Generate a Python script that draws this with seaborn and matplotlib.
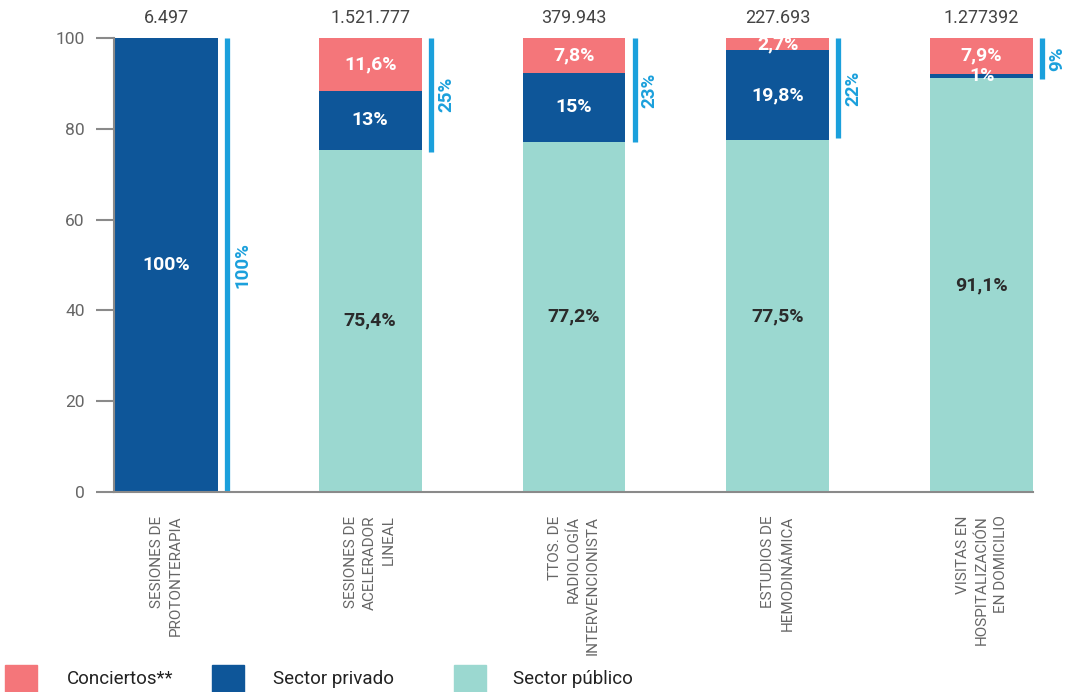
import pandas as pd
import numpy as np
import matplotlib.pyplot as plt
import seaborn as sns
from matplotlib.patches import Rectangle

# datos
categorias = ['SESIONES DE\nPROTONTERAPIA', 'SESIONES DE\nACELERADOR\nLINEAL',
              'TTOS. DE\nRADIOLOGÍA\nINTERVENCIONISTA', 'ESTUDIOS DE\nHEMODINÁMICA',
              'VISITAS EN\nHOSPITALIZACIÓN\nEN DOMICILIO']
totales = ['6.497', '1.521.777', '379.943', '227.693', '1.277392']
publico = [0, 75.4, 77.2, 77.5, 91.1]
privado = [100, 13, 15, 19.8, 1]
conciertos = [0, 11.6, 7.8, 2.7, 7.9]
pct_no_publico = [100, 25, 23, 22, 9]

etq_publico = ['', '75,4%', '77,2%', '77,5%', '91,1%']
etq_privado = ['100%', '13%', '15%', '19,8%', '1%']
etq_conciertos = ['', '11,6%', '7,8%', '2,7%', '7,9%']

c_conc = '#F4767A'
c_priv = '#0E5699'
c_pub = '#9BD8D0'
c_line = '#1BA0DC'

sns.set_style('white')
plt.rcParams['font.family'] = ['Roboto', 'DejaVu Sans']

df = pd.DataFrame({'cat': categorias, 'publico': publico, 'privado': privado,
                   'conciertos': conciertos})
df['top_priv'] = df['publico'] + df['privado']
df['top_conc'] = df['top_priv'] + df['conciertos']

fig = plt.figure(figsize=(10.67, 6.92), dpi=100)
ax = fig.add_axes([114 / 1067, 200 / 692, (1033 - 114) / 1067, 454 / 692])

w = 0.505
sns.barplot(data=df, x='cat', y='top_conc', color=c_conc, width=w, saturation=1,
            linewidth=0, ax=ax)
sns.barplot(data=df, x='cat', y='top_priv', color=c_priv, width=w, saturation=1,
            linewidth=0, ax=ax)
sns.barplot(data=df, x='cat', y='publico', color=c_pub, width=w, saturation=1,
            linewidth=0, ax=ax)

ax.set_xlim(-0.257, 4.252)
ax.set_ylim(0, 100)
ax.set_yticks([0, 20, 40, 60, 80, 100])
ax.set_xlabel('')
ax.set_ylabel('')

for s in ['top', 'right']:
    ax.spines[s].set_visible(False)
for s in ['left', 'bottom']:
    ax.spines[s].set_color('#8a8a8a')
    ax.spines[s].set_linewidth(1.5)

ax.tick_params(axis='y', length=13, width=1.5, color='#8a8a8a', labelcolor='#666666',
               labelsize=12.5, pad=8, left=True)
ax.tick_params(axis='x', length=0, labelcolor='#666666', labelsize=11, pad=17)
for lbl in ax.get_xticklabels():
    lbl.set_rotation(90)
    lbl.set_va('top')
    lbl.set_ha('center')
    lbl.set_multialignment('right')
    lbl.set_linespacing(1.45)

for i in range(len(categorias)):
    pb = publico[i]
    pr = privado[i]
    cc = conciertos[i]
    if etq_publico[i]:
        ax.text(i, pb / 2, etq_publico[i], ha='center', va='center', color='#2b2b2b',
                fontsize=14, fontweight='bold', clip_on=True)
    ax.text(i, pb + pr / 2, etq_privado[i], ha='center', va='center', color='white',
            fontsize=14, fontweight='bold', clip_on=True)
    if etq_conciertos[i]:
        ax.text(i, pb + pr + cc / 2, etq_conciertos[i], ha='center', va='center',
                color='white', fontsize=14, fontweight='bold', clip_on=True)
    # total arriba
    ax.text(i, 104.5, totales[i], ha='center', va='center', color='#444444',
            fontsize=13, clip_on=False)
    # linea lateral
    ax.vlines(i + 0.297, 100 - pct_no_publico[i], 100, color=c_line, lw=3.8, clip_on=False)
    ax.text(i + 0.372, 100 - pct_no_publico[i] / 2, f'{pct_no_publico[i]}%', rotation=90,
            ha='center', va='center', color=c_line, fontsize=13.5, fontweight='bold',
            clip_on=False)

# leyenda
leyenda = [(c_conc, 'Conciertos**', 5, 67), (c_priv, 'Sector privado', 212, 273),
           (c_pub, 'Sector público', 454, 513)]
for col, txt, x0, xt in leyenda:
    fig.patches.append(Rectangle((x0 / 1067, 0), 32 / 1067, 27 / 692, color=col,
                                 transform=fig.transFigure, figure=fig))
    fig.text(xt / 1067, 13 / 692, txt, ha='left', va='center', color='#222222', fontsize=13.5)

fig.savefig('out.png', dpi=100)
